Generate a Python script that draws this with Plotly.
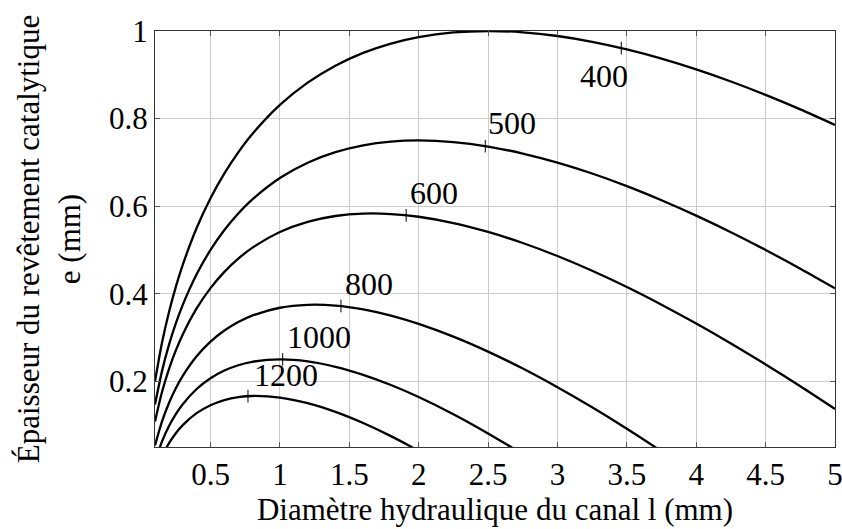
import plotly.graph_objects as go

# Hydraulic diameter of the channel l (mm), shared sampling grid
diametre_l = [0.1, 0.15, 0.2, 0.25, 0.3, 0.4, 0.5, 0.6, 0.7, 0.8, 1.0, 1.2, 1.4,
              1.6, 1.8, 2.0, 2.25, 2.5, 2.75, 3.0, 3.25, 3.5, 3.75, 4.0, 4.25,
              4.5, 4.75, 5.0]

# Coating thickness e (mm) for each curve
e_400 = [0.2000, 0.2874, 0.3571, 0.4156, 0.4660, 0.5500, 0.6180, 0.6747, 0.7229,
         0.7642, 0.8311, 0.8820, 0.9208, 0.9500, 0.9713, 0.9861, 0.9967, 1.0000,
         0.9970, 0.9886, 0.9754, 0.9580, 0.9369, 0.9123, 0.8846, 0.8541, 0.8210,
         0.7855]
e_500 = [0.1472, 0.2227, 0.2825, 0.3321, 0.3746, 0.4444, 0.5000, 0.5455, 0.5832,
         0.6149, 0.6642, 0.6992, 0.7233, 0.7389, 0.7474, 0.7500, 0.7463, 0.7361,
         0.7202, 0.6995, 0.6745, 0.6458, 0.6136, 0.5784, 0.5405, 0.5000, 0.4572,
         0.4123]
e_600 = [0.1082, 0.1750, 0.2274, 0.2705, 0.3071, 0.3665, 0.4129, 0.4500, 0.4801,
         0.5047, 0.5410, 0.5642, 0.5775, 0.5830, 0.5820, 0.5758, 0.5615, 0.5412,
         0.5159, 0.4861, 0.4524, 0.4153, 0.3750, 0.3320, 0.2865, 0.2386, 0.1887,
         0.1368]
e_800 = [0.0536, 0.1080, 0.1500, 0.1840, 0.2124, 0.2571, 0.2906, 0.3160, 0.3354,
         0.3500, 0.3680, 0.3747, 0.3729, 0.3642, 0.3500, 0.3311, 0.3020, 0.2678,
         0.2291, 0.1865, 0.1406, 0.0917, 0.0401, -0.0139]
e_1000 = [0.0162, 0.0623, 0.0972, 0.1250, 0.1477, 0.1825, 0.2071, 0.2246, 0.2367,
          0.2445, 0.2500, 0.2455, 0.2332, 0.2149, 0.1917, 0.1642, 0.1250, 0.0811,
          0.0333, -0.0179]
e_1200 = [-0.0113, 0.0286, 0.0582, 0.0814, 0.1000, 0.1274, 0.1455, 0.1571, 0.1638,
          0.1665, 0.1629, 0.1500, 0.1301, 0.1047, 0.0748, 0.0410, -0.0057]

series_noms = ["400", "500", "600", "800", "1000", "1200"]
series_e = [e_400, e_500, e_600, e_800, e_1000, e_1200]

# Where each curve carries its label
repere_l = [3.46, 2.48, 1.91, 1.44, 1.02, 0.77]
repere_e = [0.961, 0.737, 0.579, 0.372, 0.250, 0.166]

x_ticks = [0.5, 1, 1.5, 2, 2.5, 3, 3.5, 4, 4.5, 5]
x_tick_text = ["0.5", "1", "1.5", "2", "2.5", "3", "3.5", "4", "4.5", "5"]
y_ticks = [0.2, 0.4, 0.6, 0.8, 1.0]
y_tick_text = ["0.2", "0.4", "0.6", "0.8", "1"]

FONT = "Liberation Serif, serif"

fig = go.Figure()

for nom, e_vals in zip(series_noms, series_e):
    fig.add_trace(go.Scatter(
        x=diametre_l[:len(e_vals)], y=e_vals, mode="lines", name=nom,
        line=dict(color="black", width=2.3, shape="spline", smoothing=0.8),
        showlegend=False, hoverinfo="skip",
    ))

fig.add_trace(go.Scatter(
    x=repere_l, y=repere_e, mode="markers", showlegend=False, hoverinfo="skip",
    marker=dict(symbol="line-ns", size=9, line=dict(color="black", width=1)),
))

# label offsets in pixels (x, y) relative to the curve mark
decalages = {"400": (9, -8), "500": (1, 3), "600": (2, 2),
             "800": (2, 2), "1000": (2, 2), "1200": (4, 1)}

for nom, lx, ey in zip(series_noms, repere_l, repere_e):
    dx, dy = decalages[nom]
    if nom == "400":
        fig.add_annotation(x=lx, y=ey, text=nom, showarrow=False,
                           xanchor="right", yanchor="top", xshift=dx, yshift=dy,
                           font=dict(family=FONT, size=32, color="black"))
    else:
        fig.add_annotation(x=lx, y=ey, text=nom, showarrow=False,
                           xanchor="left", yanchor="bottom", xshift=dx, yshift=dy,
                           font=dict(family=FONT, size=32, color="black"))

axis_common = dict(
    showgrid=True, gridcolor="#cccccc", gridwidth=1,
    showline=True, linecolor="#333333", linewidth=1.2, mirror="ticks",
    ticks="inside", ticklen=5, tickcolor="#555555", tickwidth=1,
    zeroline=False, ticklabeloverflow="allow", automargin=False,
    tickfont=dict(family=FONT, size=31, color="black"),
)

fig.update_xaxes(
    range=[0.1, 5], tickvals=x_ticks, ticktext=x_tick_text,
    title=dict(text="Diamètre hydraulique du canal l (mm)",
               font=dict(family=FONT, size=31, color="black"), standoff=2),
    **axis_common,
)
fig.update_yaxes(
    range=[0.05, 1], tickvals=y_ticks, ticktext=y_tick_text,
    title=dict(text="Épaisseur du revêtement catalytique<br>e (mm)",
               font=dict(family=FONT, size=31, color="black"), standoff=19),
    **axis_common,
)

fig.update_layout(
    width=842, height=529,
    margin=dict(l=155, r=7, t=31, b=82),
    paper_bgcolor="white", plot_bgcolor="white",
    font=dict(family=FONT, color="black"),
)

fig.write_html("out.html")
